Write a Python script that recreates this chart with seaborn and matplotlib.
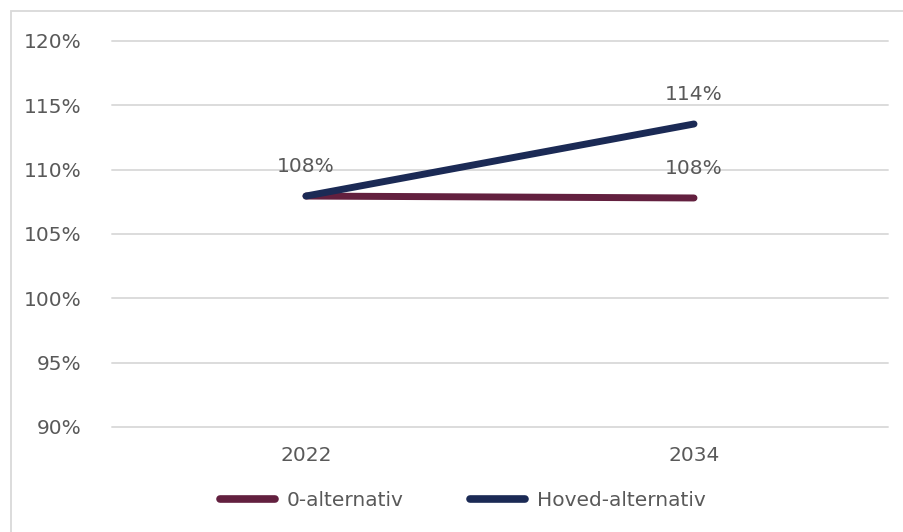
import matplotlib
matplotlib.use("Agg")
import matplotlib.pyplot as plt
import seaborn as sns
import pandas as pd
from matplotlib.patches import Rectangle
from matplotlib.ticker import FuncFormatter

years = ["2022", "2034"]
series_names = ["0-alternativ", "Hoved-alternativ"]
null_alt = [1.0795, 1.078]
hoved_alt = [1.0795, 1.1355]
yticks = [0.90, 0.95, 1.00, 1.05, 1.10, 1.15, 1.20]

df = pd.DataFrame({
    "year": years * 2,
    "value": null_alt + hoved_alt,
    "series": [series_names[0]] * 2 + [series_names[1]] * 2,
})

sns.set_theme(style="white")
plt.rcParams['font.family'] = ['DejaVu Sans']
text_col = "#595959"
palette = {"0-alternativ": "#63203F", "Hoved-alternativ": "#1B2A55"}
fs = 14.5

fig = plt.figure(figsize=(9.04, 5.32), dpi=100)
ax = fig.add_axes([112/904, 1-427/532, (888-112)/904, (427-41)/532])

sns.lineplot(data=df, x="year", y="value", hue="series", palette=palette,
             linewidth=5.0, sort=False, ax=ax, legend=True,
             solid_capstyle="round")

ax.set_xlim(-0.5, 1.5)
ax.set_ylim(0.90, 1.20)
ax.set_yticks(yticks)
ax.yaxis.set_major_formatter(FuncFormatter(lambda v, p: f"{v*100:.0f}%"))
ax.grid(axis="y", color="#DCDCDC", linewidth=1.4)
for gl in ax.get_ygridlines():
    gl.set_clip_on(False)
ax.set_axisbelow(True)
for s in ax.spines.values():
    s.set_visible(False)
ax.tick_params(axis="y", length=0, pad=22, labelsize=fs, labelcolor=text_col)
ax.tick_params(axis="x", length=0, pad=14, labelsize=fs, labelcolor=text_col)
ax.set_xlabel("")
ax.set_ylabel("")

# data labels
labels = [(0, null_alt[0]), (1, hoved_alt[1]), (1, null_alt[1])]
for xi, v in labels:
    ax.annotate(f"{v*100:.0f}%", (xi, v), xytext=(0, 21), textcoords="offset points",
                ha="center", va="center", fontsize=fs, color=text_col)

h, l = ax.get_legend_handles_labels()
ax.legend_.remove()
leg = fig.legend(h, l, loc="center", bbox_to_anchor=(463/904, 1-501/532), ncol=2,
                 frameon=False, fontsize=fs, handlelength=2.7, columnspacing=3.3,
                 handletextpad=0.6)
for t in leg.get_texts():
    t.set_color(text_col)
for line in leg.get_lines():
    line.set_linewidth(5.5)
    line.set_solid_capstyle("round")

fig.patches.append(Rectangle((11/904, -0.01), 1.02, 1 - 11/532 + 0.01,
                             transform=fig.transFigure, fill=False,
                             edgecolor="#D9D9D9", linewidth=1.3))

fig.savefig("out.png", dpi=100)
